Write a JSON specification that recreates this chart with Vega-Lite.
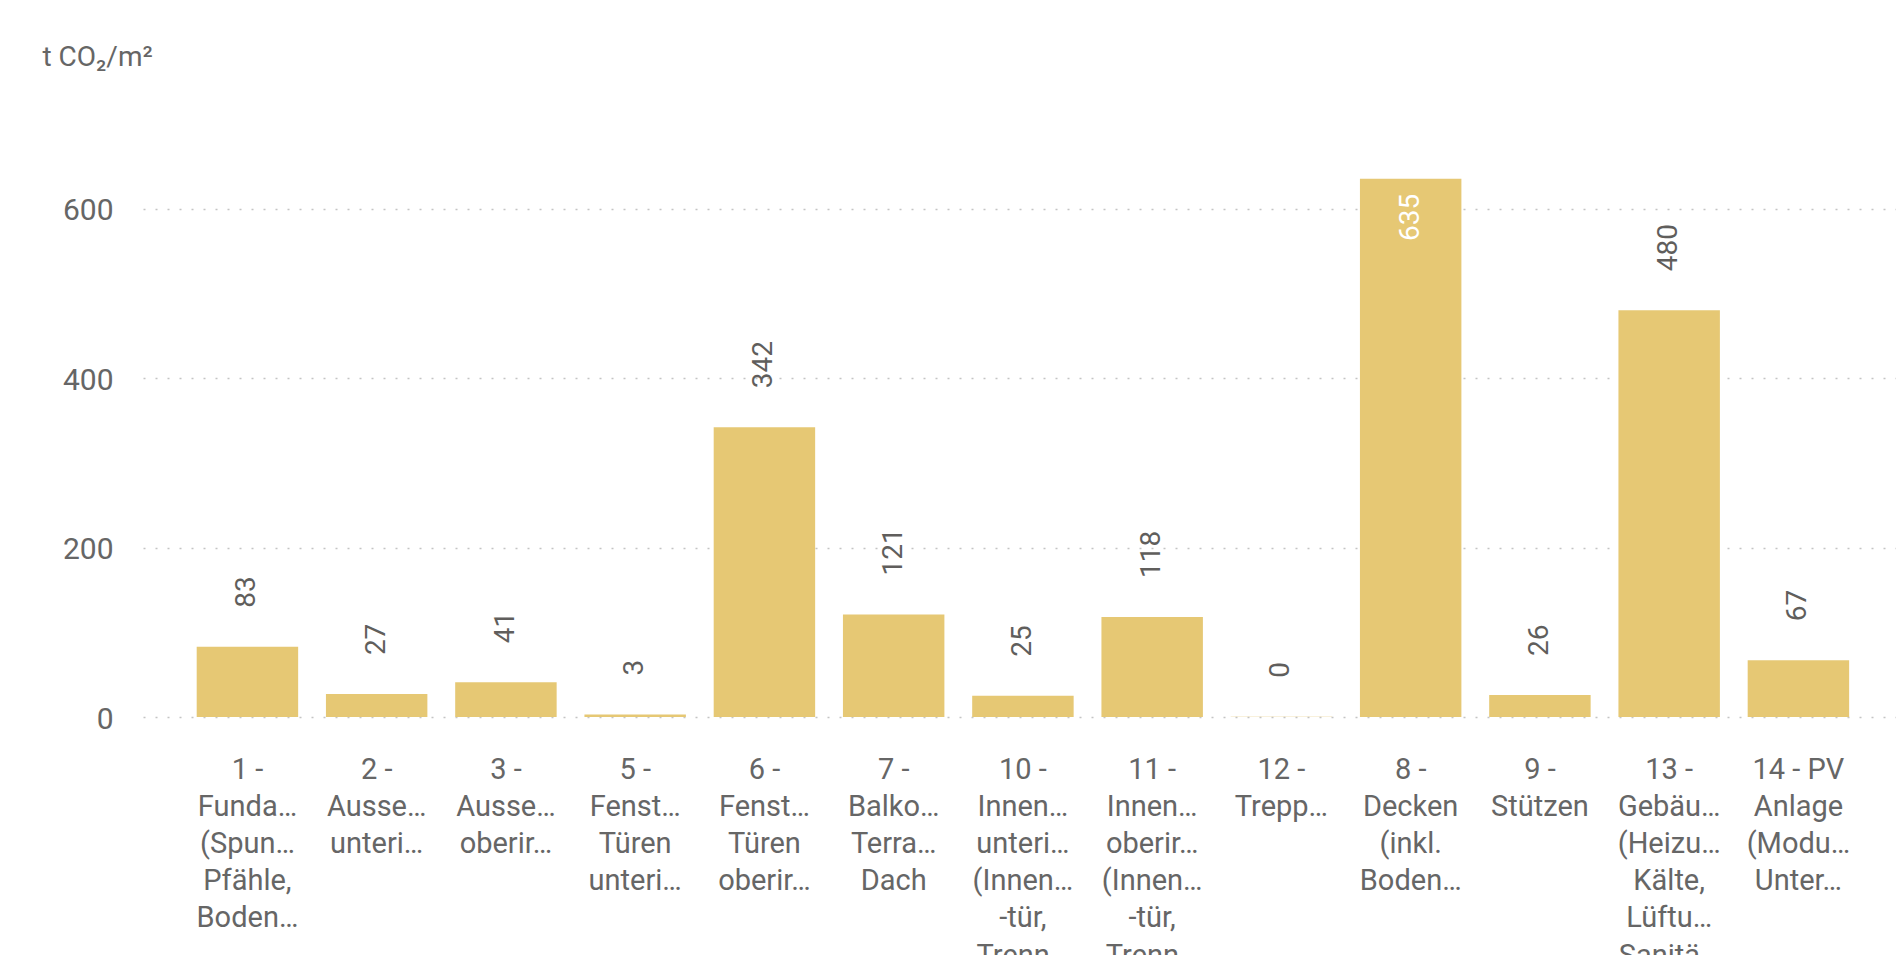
{
  "$schema": "https://vega.github.io/schema/vega-lite/v6.json",
  "width": 1753,
  "height": 600,
  "autosize": {"type": "none"},
  "padding": {"left": 143, "top": 117, "right": 0, "bottom": 238},
  "background": "white",
  "config": {"view": {"stroke": null}, "font": "Roboto"},
  "data": {
    "values": [
      {"category": "1 -|Funda…|(Spun…|Pfähle,|Boden…", "value": 83},
      {"category": "2 -|Ausse…|unteri…", "value": 27},
      {"category": "3 -|Ausse…|oberir…", "value": 41},
      {"category": "5 -|Fenst…|Türen|unteri…", "value": 3},
      {"category": "6 -|Fenst…|Türen|oberir…", "value": 342},
      {"category": "7 -|Balko…|Terra…|Dach", "value": 121},
      {"category": "10 -|Innen…|unteri…|(Innen…|-tür,|Trenn…", "value": 25},
      {"category": "11 -|Innen…|oberir…|(Innen…|-tür,|Trenn…", "value": 118},
      {"category": "12 -|Trepp…", "value": 0.4},
      {"category": "8 -|Decken|(inkl.|Boden…", "value": 635},
      {"category": "9 -|Stützen", "value": 26},
      {"category": "13 -|Gebäu…|(Heizu…|Kälte,|Lüftu…|Sanitä…", "value": 480},
      {"category": "14 - PV|Anlage|(Modu…|Unter…", "value": 67}
    ]
  },
  "encoding": {
    "x": {
      "field": "category",
      "type": "nominal",
      "sort": null,
      "scale": {"paddingInner": 0.215, "paddingOuter": 0.389, "align": 0.534, "round": false},
      "axis": {
        "title": null,
        "labelAngle": 0,
        "ticks": false,
        "domain": false,
        "labelPadding": 38,
        "labelFontSize": 29,
        "labelLineHeight": 37.2,
        "labelColor": "#666666",
        "labelExpr": "split(datum.value, '|')",
        "labelLimit": 0,
        "labelOverlap": false,
        "labelBound": false,
        "labelFlush": false
      }
    },
    "y": {
      "field": "value",
      "type": "quantitative",
      "scale": {"domain": [0, 708], "nice": false},
      "axis": {
        "values": [0, 200, 400, 600],
        "ticks": false,
        "domain": false,
        "grid": true,
        "gridDash": [2, 10],
        "gridColor": "#c4c4c4",
        "gridWidth": 1.5,
        "labelPadding": 30,
        "labelFontSize": 30,
        "labelColor": "#666666",
        "labelBaseline": "middle",
        "labelOffset": 2,
        "title": "t CO₂/m²",
        "titleAngle": 0,
        "titleAlign": "left",
        "titleBaseline": "middle",
        "titleX": -101,
        "titleY": -60,
        "titleFontSize": 28,
        "titleFontWeight": "normal",
        "titleColor": "#666666"
      }
    }
  },
  "layer": [
    {"mark": {"type": "bar", "color": "#E6C874"}},
    {
      "transform": [{"filter": "datum.value < 600"}],
      "mark": {"type": "text", "angle": 270, "align": "left", "baseline": "middle", "dx": 39, "fontSize": 28, "color": "#605E5C"},
      "encoding": {"text": {"field": "value", "type": "quantitative", "format": ".0f"}}
    },
    {
      "transform": [{"filter": "datum.value >= 600"}],
      "mark": {"type": "text", "angle": 270, "align": "right", "baseline": "middle", "dx": -15, "fontSize": 28, "color": "white"},
      "encoding": {"text": {"field": "value", "type": "quantitative", "format": ".0f"}}
    }
  ]
}
